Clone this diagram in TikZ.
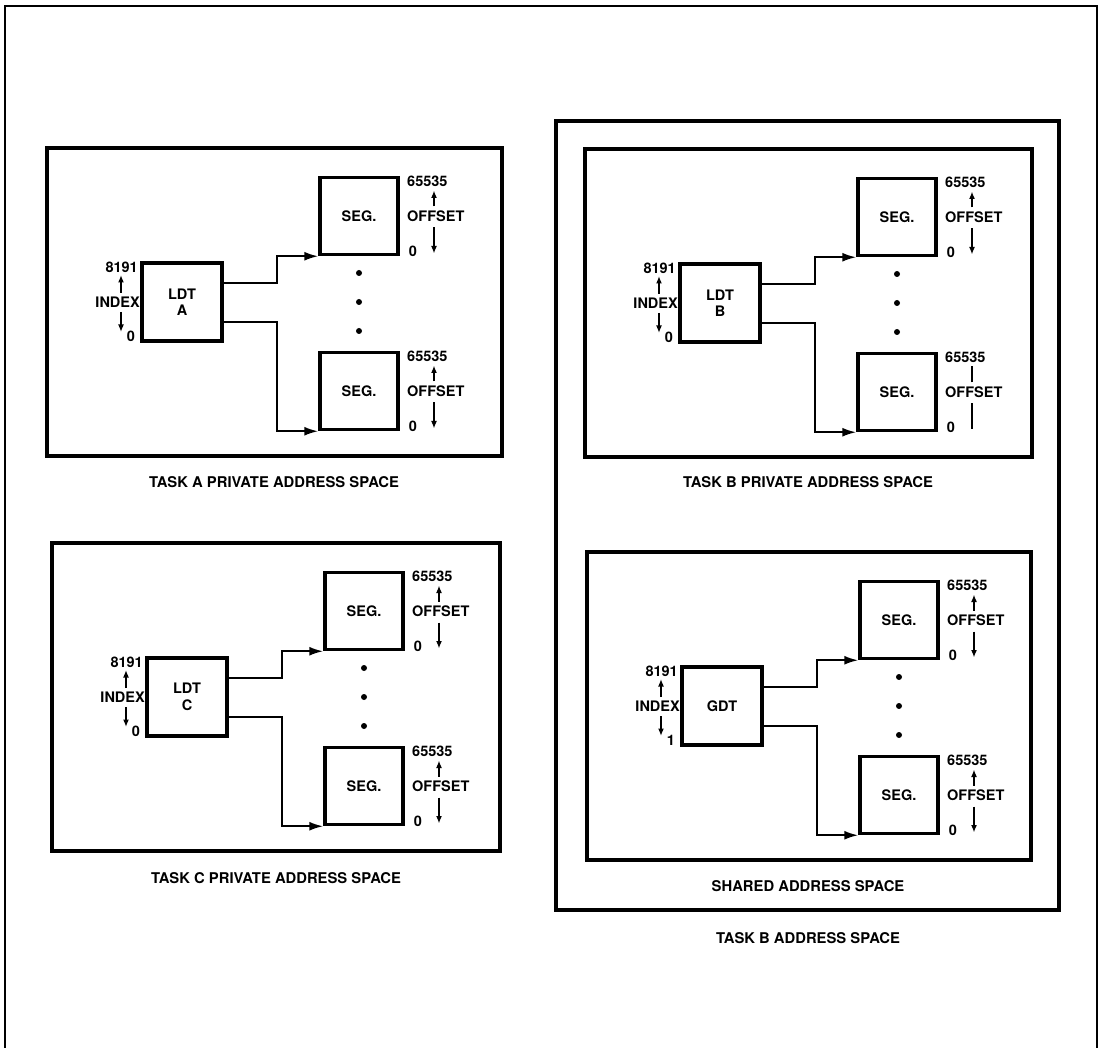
\documentclass[tikz,border=0pt]{standalone}
\usepackage{fontspec}
\setmainfont{TeX Gyre Heros}
\usetikzlibrary{arrows.meta}
\tikzset{
  panelbox/.style={line width=4pt},
  outerbox/.style={line width=4pt},
  framebox/.style={line width=2.8pt},
  tablebox/.style={draw, line width=3.5pt, minimum width=80pt, minimum height=78pt, inner sep=0pt, align=center, font=\fontsize{14.5}{16.5}\selectfont\bfseries},
  segbox/.style={draw, line width=3.5pt, minimum width=78pt, minimum height=77pt, inner sep=0pt, font=\fontsize{14.5}{16}\selectfont\bfseries},
  conn/.style={line width=2pt, -{Latex[length=14pt,width=9pt]}},
  lab/.style={inner sep=0pt, font=\fontsize{14.5}{16}\selectfont\bfseries},
  caption/.style={inner sep=0pt, font=\fontsize{14.8}{16}\selectfont\bfseries},
  smallarrow/.style={line width=1.8pt, -{Latex[length=7.5pt,width=6pt]}},
  plainline/.style={line width=1.8pt},
  dotmark/.style={circle, fill, inner sep=0pt, minimum size=6pt},
}
% offset labels: #1 prefix, #2 seg top y, #3 arrow style
\newcommand\offlabels[3]{%
  \node[lab, anchor=west] (#1hi) at (360,#2+3.5) {65535};
  \node[lab, anchor=west] (#1off) at (360,#2+38.5) {OFFSET};
  \node[lab] (#1lo) at (366,#2+73.5) {0};
  \draw[#3] (387,#2+29) -- (387,#2+13);
  \draw[#3] (387,#2+50) -- (387,#2+76);
}
% panel: #1 prefix, #2 x, #3 y, #4 width, #5 table text, #6 low index, #7 arrow style lower seg
\newcommand\mempanel[7]{%
\begin{scope}[shift={(#2,#3)}]
  \draw[panelbox] (0,0) rectangle (#4,308);
  \node[tablebox] (#1tab) at (135,154) {#5};
  \node[segbox] (#1segA) at (312,68) {SEG.};
  \node[segbox] (#1segB) at (312,243) {SEG.};
  \draw[conn] ([yshift=19pt]#1tab.east) -- ++(53,0) |- (#1segA.south west);
  \draw[conn] ([yshift=-20pt]#1tab.east) -- ++(53,0) |- (#1segB.south west);
  \node[dotmark] (#1dA) at (312,125) {};
  \node[dotmark] (#1dB) at (312,154) {};
  \node[dotmark] (#1dC) at (312,183) {};
  \node[lab, anchor=east] (#1ihi) at (91,119) {8191};
  \node[lab, anchor=east] (#1idx) at (93,154) {INDEX};
  \node[lab] (#1ilo) at (84,188) {#6};
  \draw[smallarrow] (74,145) -- (74,127);
  \draw[smallarrow] (74,164) -- (74,184);
  \offlabels{#1a}{29.5}{smallarrow}
  \offlabels{#1b}{204.5}{#7}
\end{scope}}
\begin{document}
\begin{tikzpicture}[x=1pt,y=-1pt]
\useasboundingbox (0,0) rectangle (1101,1048);
\draw[framebox] (5,1048) -- (5,6) -- (1097,6) -- (1097,1048);
% Task B address space
\draw[outerbox] (556,121) rectangle (1059,910);
\mempanel{A}{47}{148}{455}{LDT\\A}{0}{smallarrow}
\mempanel{C}{52}{543}{448}{LDT\\C}{0}{smallarrow}
\mempanel{B}{585}{149}{447}{LDT\\B}{0}{plainline}
\mempanel{G}{587}{552}{444}{GDT}{1}{smallarrow}
\node[caption] (capA) at (274,482) {TASK A PRIVATE ADDRESS SPACE};
\node[caption] (capB) at (808,482) {TASK B PRIVATE ADDRESS SPACE};
\node[caption] (capC) at (276,878) {TASK C PRIVATE ADDRESS SPACE};
\node[caption] (capG) at (808,886) {SHARED ADDRESS SPACE};
\node[caption] (capT) at (808,938) {TASK B ADDRESS SPACE};
\end{tikzpicture}
\end{document}
